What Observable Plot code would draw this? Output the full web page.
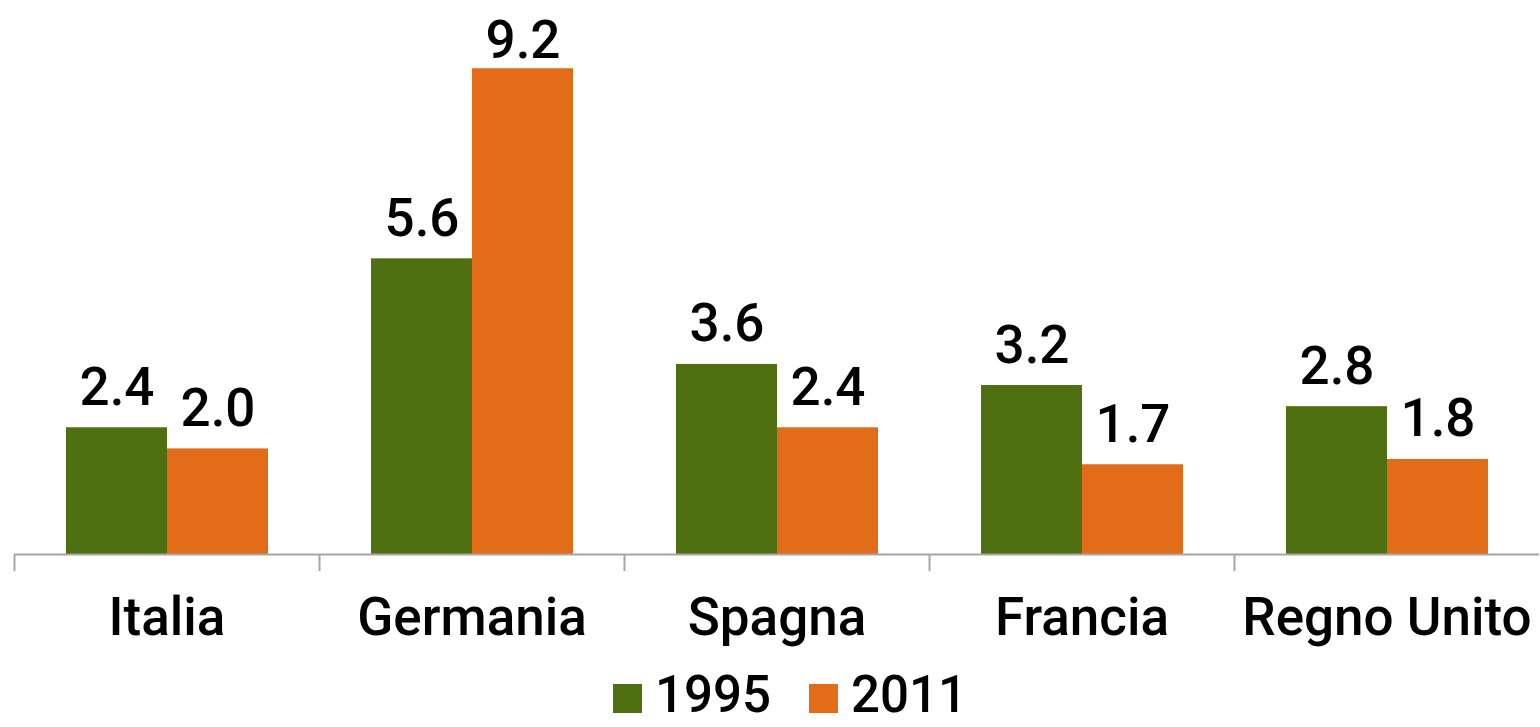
<!DOCTYPE html>
<html>
<head>
<meta charset="utf-8">
<script src="https://cdn.jsdelivr.net/npm/d3@7"></script>
<script src="https://cdn.jsdelivr.net/npm/@observablehq/plot@0.6"></script>
<style>
  html, body { margin: 0; padding: 0; background: #fff; }
  #chart { width: 1540px; font-family: Roboto, sans-serif; }
  .legend { display: flex; justify-content: center; align-items: center; height: 60px; padding-left: 40px; padding-top: 4px;
            font-family: Roboto, sans-serif; font-size: 51px; font-weight: 500; line-height: 1; color: #000; }
  .legend .item { display: flex; align-items: center; margin: 0 19px; }
  .legend .sw { width: 29px; height: 29px; margin-right: 13px; margin-top: 8px; }
</style>
</head>
<body>
<div id="chart"></div>
<script>
const categories = ["Italia", "Germania", "Spagna", "Francia", "Regno Unito"];
const series = ["1995", "2011"];
const values1995 = [2.4, 5.6, 3.6, 3.2, 2.8];
const values2011 = [2.0, 9.2, 2.4, 1.7, 1.8];
const colors = ["#4f7010", "#e36c19"];

const data = [];
categories.forEach((c, i) => {
  data.push({country: c, year: series[0], value: values1995[i]});
  data.push({country: c, year: series[1], value: values2011[i]});
});
const fmt = d3.format(".1f");
const maxValue = d3.max(data, d => d.value);

const labelOpts = {fx: "country", x: "year", y: "value", text: d => fmt(d.value),
                   lineAnchor: "bottom", fontSize: 53, fontWeight: 500, fill: "#000"};

const plot = Plot.plot({
  width: 1540,
  height: 660,
  marginLeft: 13,
  marginRight: 0,
  marginTop: 26,
  marginBottom: 106,
  style: {fontFamily: "Roboto, sans-serif", fontSize: "53px", fontWeight: 500, color: "#000", background: "#fff", overflow: "visible"},
  fx: {domain: categories, padding: 0, label: null, axis: "bottom", tickSize: 0, tickPadding: 43},
  x: {domain: series, paddingInner: 0, paddingOuter: 0.5, axis: null},
  y: {domain: [0, 10], axis: null},
  color: {domain: series, range: colors},
  marks: [
    Plot.barY(data, {fx: "country", x: "year", y: "value", fill: "year"}),
    Plot.ruleY([0], {stroke: "#a6a6a6", strokeWidth: 2}),
    Plot.text(data, {...labelOpts, filter: d => d.value < maxValue, dy: -23}),
    Plot.text(data, {...labelOpts, filter: d => d.value === maxValue, dy: -11})
  ]
});
document.getElementById("chart").appendChild(plot);

// category-boundary ticks derived from the fx band scale
const fx = plot.scale("fx");
const y = plot.scale("y");
const svg = d3.select(plot.tagName.toLowerCase() === "svg" ? plot : plot.querySelector("svg"));
const y0 = y.apply(0);
svg.append("g").selectAll("line").data(categories).join("line")
  .attr("x1", d => fx.apply(d) + 0.5)
  .attr("x2", d => fx.apply(d) + 0.5)
  .attr("y1", y0)
  .attr("y2", y0 + 17)
  .attr("stroke", "#a6a6a6")
  .attr("stroke-width", 2);

// legend
const legend = d3.select("#chart").append("div").attr("class", "legend");
const items = legend.selectAll(".item").data(series).join("div").attr("class", "item");
items.append("div").attr("class", "sw").style("background", (d, i) => colors[i]);
items.append("span").text(d => d);
</script>
</body>
</html>
